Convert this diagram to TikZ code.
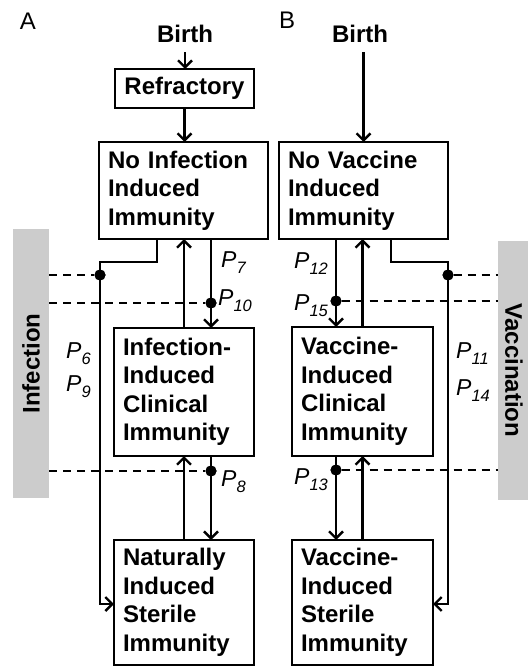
\documentclass[tikz,border=0pt]{standalone}
\usepackage{fontspec}
\setmainfont{Liberation Sans}
\usetikzlibrary{arrows.meta,calc}
\newcommand\bxf{\fontsize{24}{28.5}\selectfont\bfseries}
\newcommand\Plab[1]{{\fontsize{23}{23}\selectfont\itshape P\raisebox{-6.5pt}{\fontsize{16.5}{16.5}\selectfont #1}}}
\begin{document}
\begin{tikzpicture}[x=1pt,y=-1pt,
  box/.style={draw, line width=2.6pt, font=\bxf, align=left, anchor=north west, inner xsep=9pt, inner ysep=0pt, outer sep=0pt},
  arr/.style={line width=2.4pt, -{Straight Barb[length=7pt,width=14pt,line width=2.4pt]}},
  dsh/.style={line width=2.4pt, dash pattern=on 8pt off 6pt},
  dot/.style={circle, fill, inner sep=0pt, minimum size=11pt},
  bar/.style={fill=black!20, font=\bxf, inner sep=0pt, outer sep=0pt},
  plab/.style={anchor=base west, inner sep=0pt},
  lbl/.style={font=\fontsize{24}{24}\selectfont, anchor=base, inner sep=0pt},
  birth/.style={font=\bxf, anchor=base, inner xsep=0pt, inner ysep=0pt, outer ysep=9pt}]

\useasboundingbox (0,0) rectangle (527,668);

% grey bars
\node[bar, rotate=90, minimum width=269pt, minimum height=36pt] (gA) at (31,363.5) {Infection};
\node[bar, rotate=-90, minimum width=259pt, minimum height=32pt] (gB) at (514,370.5) {Vaccination};

% panel labels
\node[lbl] (lA) at (28,30) {A};
\node[lbl] (lB) at (287,29) {B};

% ---------- Panel A ----------
\node[birth] (bA) at (185,43) {Birth};
\node[box, text width=121pt, align=center, minimum height=39pt] (ref) at (115,69) {Refractory};
\node[box, text width=151pt, minimum height=97pt] (ni) at (99,142) {No Infection\\Induced\\Immunity};
\node[box, text width=122pt, minimum height=128pt] (ic) at (114,328) {Infection-\\Induced\\Clinical\\Immunity};
\node[box, text width=122pt, minimum height=125pt] (ns) at (114,540) {Naturally\\Induced\\Sterile\\Immunity};

\node[dot] (dA1) at (100,275) {};
\node[dot] (dA2) at (211,303) {};
\node[dot] (dA3) at (211,471) {};
\coordinate (kA) at (100,604);

\draw[dsh] (gA.south |- dA1) -- (dA1);
\draw[dsh] (gA.south |- dA2) -- (dA2);
\draw[dsh] (gA.south |- dA3) -- (dA3);

\draw[arr] (bA.south) -- (bA.south |- ref.north);
\draw[arr] (ref.south) -- (ref.south |- ni.north);
\draw[arr] ([xshift=27.5pt]ni.south) -- ([xshift=27.5pt]ni.south |- ic.north);
\draw[arr] (ic.north) -- (ic.north |- ni.south);
\draw[arr] ([xshift=27pt]ic.south) -- ([xshift=27pt]ic.south |- ns.north);
\draw[arr] (ns.north) -- (ns.north |- ic.south);
\draw[arr] ([xshift=-26.5pt]ni.south) -- ++(0,23) -| (kA) -- (kA -| ns.west);

\node[dot] at (dA1) {};
\node[dot] at (dA2) {};
\node[dot] at (dA3) {};

\node[plab] (p7) at (221,267) {\Plab{7}};
\node[plab] (p10) at (218,305) {\Plab{10}};
\node[plab] (p6) at (66,358) {\Plab{6}};
\node[plab] (p9) at (66,391) {\Plab{9}};
\node[plab] (p8) at (221,486) {\Plab{8}};

% ---------- Panel B ----------
\node[birth] (bB) at (360,43) {Birth};
\node[box, text width=151pt, minimum height=97pt] (nv) at (279,142) {No Vaccine\\Induced\\Immunity};
\node[box, text width=123pt, minimum height=129pt] (vc) at (292,327) {Vaccine-\\Induced\\Clinical\\Immunity};
\node[box, text width=123pt, minimum height=125pt] (vs) at (292,540) {Vaccine-\\Induced\\Sterile\\Immunity};

\node[dot] (dB1) at (448,275) {};
\node[dot] (dB2) at (336,301) {};
\node[dot] (dB3) at (336,470) {};
\coordinate (kB) at (448,604);

\draw[dsh] (dB1) -- (gB.south |- dB1);
\draw[dsh] (dB2) -- (gB.south |- dB2);
\draw[dsh] (dB3) -- (gB.south |- dB3);

\draw[arr] (bB.south -| nv.north) -- (nv.north);
\draw[arr] ([xshift=-27.5pt]nv.south) -- ([xshift=-27.5pt]nv.south |- vc.north);
\draw[arr] (vc.north) -- (vc.north |- nv.south);
\draw[arr] ([xshift=-26.5pt]vc.south) -- ([xshift=-26.5pt]vc.south |- vs.north);
\draw[arr] (vs.north) -- (vs.north |- vc.south);
\draw[arr] ([xshift=27.5pt]nv.south) -- ++(0,23) -| (kB) -- (kB -| vs.east);

\node[dot] at (dB1) {};
\node[dot] at (dB2) {};
\node[dot] at (dB3) {};

\node[plab] (p12) at (294,268) {\Plab{12}};
\node[plab] (p15) at (294,310) {\Plab{15}};
\node[plab] (p11) at (456,358) {\Plab{11}};
\node[plab] (p14) at (456,395) {\Plab{14}};
\node[plab] (p13) at (294,484) {\Plab{13}};
\end{tikzpicture}
\end{document}
